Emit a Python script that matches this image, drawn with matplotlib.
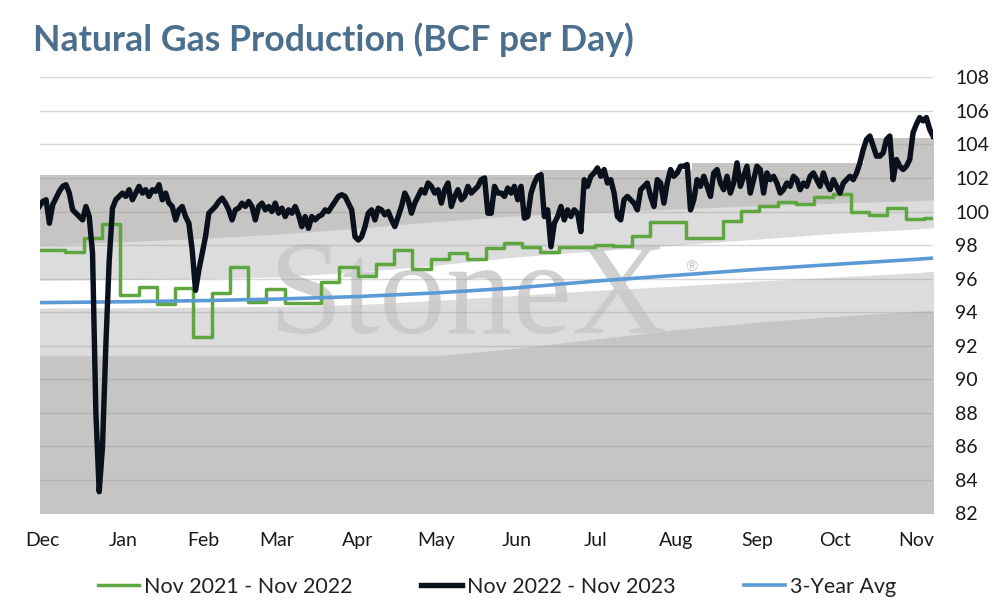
import numpy as np
import pandas as pd
import matplotlib.pyplot as plt
import matplotlib.dates as mdates

plt.rcParams['font.family'] = ['Lato', 'DejaVu Sans']

# monthly anchor dates for the shaded range bands and the 3-year average
band_dates = pd.to_datetime(['2022-11-30', '2023-01-01', '2023-02-01', '2023-03-01', '2023-04-01',
                             '2023-05-01', '2023-06-01', '2023-07-01', '2023-08-01', '2023-09-01',
                             '2023-10-01', '2023-11-01', '2023-11-08'])
range_min = [91.4, 91.4, 91.4, 91.4, 91.4, 91.4, 91.85, 92.4, 92.95, 93.4, 93.75, 94.05, 94.1]
range_low = [94.25, 94.25, 94.3, 94.35, 94.45, 94.7, 95.0, 95.3, 95.55, 95.85, 96.1, 96.35, 96.45]
range_high = [95.9, 95.95, 96.0, 96.1, 96.4, 96.8, 97.3, 97.65, 98.0, 98.35, 98.7, 98.95, 99.05]
range_upper = [98.0, 98.2, 98.4, 98.65, 99.0, 99.4, 99.75, 99.95, 100.15, 100.35, 100.5, 100.65, 100.7]
avg_3yr = [94.57, 94.62, 94.69, 94.78, 94.93, 95.15, 95.45, 95.85, 96.2, 96.55, 96.85, 97.15, 97.23]

# stepped range maximum
max_dates = pd.to_datetime(['2022-11-30', '2023-06-10', '2023-08-07', '2023-10-12', '2023-11-08'])
range_max = [102.2, 102.5, 102.9, 104.4, 104.4]

# weekly values, Nov 2021 - Nov 2022
prev_start = '2022-11-26'
prev_year = [97.7, 97.7, 97.6, 98.45, 99.25, 95.0, 95.5, 94.5, 95.45, 92.5,
             95.15, 96.7, 94.6, 95.4, 94.55, 94.55, 95.8, 96.7, 96.15, 96.9,
             97.7, 96.55, 97.15, 97.5, 97.15, 97.8, 98.15, 97.9, 97.6, 97.9,
             97.9, 98.0, 97.95, 98.55, 99.4, 99.4, 98.45, 98.45, 99.45, 100.05,
             100.3, 100.55, 100.45, 100.85, 101.05, 100.0, 99.8, 100.2, 99.55, 99.6,
             99.6]

# Nov 2022 - Nov 2023, read roughly every 1.3 days
cur_start, cur_end = '2022-11-30', '2023-11-07 12:00'
cur_year = [
    100.3, 100.6, 100.7, 99.3, 100.4, 100.8, 101.2, 101.5, 101.6, 101.1,
    100.1, 99.9, 99.7, 99.5, 100.3, 99.7, 97.5,
    88.0, 83.3, 86.0, 92.0, 97.0, 100.2, 100.7,
    100.9, 101.1, 100.9, 101.3, 100.7, 101.1, 101.5, 101.1, 101.3, 100.9,
    101.3, 101.2, 101.6, 100.7, 101.1, 100.5, 100.3, 99.5, 100.1, 100.3,
    99.7, 99.3, 97.7, 95.3,
    96.5, 97.5, 98.5, 99.9, 100.1, 100.3, 100.6, 100.8, 100.5, 100.1,
    99.5, 100.1, 100.2, 100.5, 100.3, 100.6, 100.3, 99.5, 100.3, 100.5,
    100.1, 100.3, 100.0, 100.5, 99.9, 100.2, 99.7, 100.1, 99.9, 100.3,
    99.8, 99.1, 99.7, 99.0, 99.7, 99.5, 99.7, 99.8, 100.1, 100.0,
    100.3, 100.6, 100.9, 101.0, 100.9, 100.5, 100.1, 98.5, 98.3, 98.5,
    99.1, 99.9, 100.1, 99.5, 100.2, 100.1, 99.8, 100.0, 99.5, 99.1,
    99.7, 100.3, 101.1, 100.7, 99.9, 100.5, 100.9, 101.3, 101.1, 101.7,
    101.5, 101.1, 101.3, 100.5, 101.3, 101.7, 100.3, 100.9, 101.3, 100.7,
    100.9, 101.5, 101.1, 101.3, 101.5, 101.9, 102.0, 99.9, 99.9, 101.5,
    101.1, 101.1, 100.9, 101.4, 101.1, 101.5, 100.7, 101.5, 99.6,
    99.7, 101.1, 101.7, 102.1, 102.2, 99.7, 100.1, 97.9, 99.3, 99.7,
    100.3, 99.5, 100.1, 99.7, 100.1, 99.9, 98.8, 101.9, 101.5, 102.1,
    102.3, 102.6, 102.1, 102.5, 101.7, 101.9, 101.1, 99.7, 99.5, 100.7,
    100.9, 100.7, 100.5, 100.1, 101.3, 101.5, 101.7, 100.9, 100.3, 101.9,
    101.7, 100.5, 101.7, 102.5, 102.1, 102.3, 102.7, 102.7, 102.8, 100.1,
    100.7, 101.9, 101.5, 102.1, 101.5, 100.9, 102.3, 102.5, 101.7, 101.3,
    102.1, 101.1, 101.7, 102.9, 101.5, 102.1, 102.7, 101.1, 101.9, 102.7,
    102.5, 101.1, 102.3, 101.9, 102.1, 101.7, 101.1, 101.3, 101.7, 101.5,
    102.1, 101.9, 101.3, 101.7, 101.5, 102.1, 102.3, 101.9,
    101.5, 102.3, 101.7, 101.3, 101.9, 101.5, 101.1, 101.7, 101.9, 102.1,
    101.9, 102.3, 102.9, 103.7, 104.3, 104.5, 103.9, 103.3, 103.3, 103.5,
    104.3, 104.5, 101.9, 103.1, 102.7, 102.5, 102.7, 103.1, 104.7, 105.2,
    105.6, 105.4, 105.6, 104.9, 104.5,
]

y_ticks = list(range(82, 109, 2))
series_names = ['Nov 2021 - Nov 2022', 'Nov 2022 - Nov 2023', '3-Year Avg']


def main():
    W, H = 994, 606
    fig = plt.figure(figsize=(W / 100, H / 100), dpi=100)
    ax = fig.add_axes([40 / W, 1 - 513.5 / H, 893 / W, 436.2 / H])

    dark, light = '#c6c5c3', '#dcdcdc'
    ax.fill_between(max_dates, 82, range_max, step='post', color=dark, lw=0, zorder=0.5)
    ax.fill_between(band_dates, range_min, range_upper, color=light, lw=0, zorder=0.6)
    ax.fill_between(band_dates, range_low, range_high, color='white', lw=0, zorder=0.7)

    # watermark
    ax.text(468 / W, 1 - 300 / H, 'StoneX', transform=fig.transFigure, ha='center', va='center',
            fontsize=96, family='Liberation Serif', color='#c8c8c8', alpha=0.85, zorder=1)
    ax.text(692 / W, 1 - 268 / H, '®', transform=fig.transFigure, ha='center', va='center',
            fontsize=11, color='#c8c8c8', zorder=1)

    prev_dates = pd.date_range(prev_start, periods=len(prev_year), freq='7D')
    cur_dates = pd.date_range(cur_start, cur_end, periods=len(cur_year))

    ax.step(prev_dates, prev_year, where='post', color='#5fa640', lw=2.5, zorder=3,
            label=series_names[0])
    ax.plot(band_dates, avg_3yr, color='#5b9bd5', lw=2.6, zorder=4, label=series_names[2])
    ax.plot(cur_dates, cur_year, color='#0b111c', lw=3.9, zorder=5, solid_joinstyle='round',
            label=series_names[1])

    x0 = pd.Timestamp('2022-12-01')
    ax.set_xlim(x0 - pd.Timedelta(days=0.77), x0 + pd.Timedelta(days=341.5))
    ax.set_ylim(82, 108)
    ax.set_yticks(y_ticks)
    ax.yaxis.tick_right()
    ax.xaxis.set_major_locator(mdates.MonthLocator())
    ax.xaxis.set_major_formatter(mdates.DateFormatter('%b'))
    ax.tick_params(axis='y', length=0, pad=16, labelsize=14, labelcolor='#1a1a1a')
    ax.tick_params(axis='x', length=0, pad=13, labelsize=14, labelcolor='#1a1a1a')
    ax.yaxis.grid(True, color='#9a9a9a', alpha=0.4, lw=1.0)
    ax.set_axisbelow(False)
    for s in ax.spines.values():
        s.set_visible(False)
    ax.set_facecolor('white')

    fig.text(33 / W, 1 - 40 / H, 'Natural Gas Production (BCF per Day)', ha='left', va='center',
             fontsize=25.7, fontweight='bold', color='#4d6f8e')

    h, l = ax.get_legend_handles_labels()
    order = [l.index(n) for n in series_names]
    fig.legend([h[i] for i in order], [l[i] for i in order], loc='center',
               bbox_to_anchor=(0.5, 1 - 587 / H), ncol=3, frameon=False, fontsize=15.5,
               handlelength=1.9, handletextpad=0.23, columnspacing=3.2, labelcolor='#222222')

    fig.savefig('out.png', dpi=100)


if __name__ == '__main__':
    main()
